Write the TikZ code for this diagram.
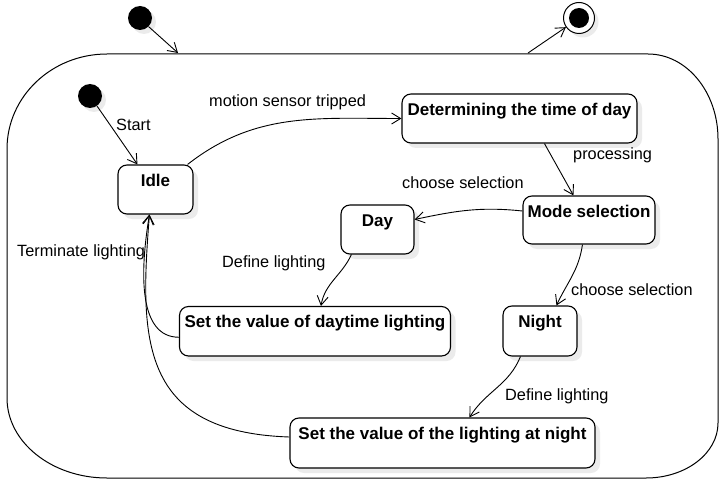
\documentclass[tikz,border=0pt]{standalone}
\usepackage{fontspec}
\setmainfont{Liberation Sans}
\usetikzlibrary{arrows.meta,calc,shadows}
\begin{document}
\begin{tikzpicture}[x=1pt,y=1pt,
  stbox/.style={draw, line width=1.1pt, rounded corners=9pt, fill=white, inner sep=0pt,
    drop shadow={shadow xshift=5pt, shadow yshift=-5pt, fill=black!8, opacity=1}},
  sttext/.style={font=\fontsize{17}{20}\selectfont\bfseries, anchor=base, inner sep=0pt},
  lbl/.style={font=\fontsize{16.3}{19}\selectfont, anchor=base west, inner sep=0pt},
  arr/.style={line width=0.9pt, -{Straight Barb[length=9pt,width=11pt,line width=0.9pt]}},
  initst/.style={circle, fill=black, minimum size=24pt, inner sep=0pt,
    drop shadow={shadow xshift=4pt, shadow yshift=-4pt, fill=black!8, opacity=1}}
]
\useasboundingbox (0,0) rectangle (719,480);
% outer composite state
\draw[line width=1pt] (107,426) -- (648,426)
  arc[start angle=90, end angle=0, x radius=70, y radius=85] -- (718,57)
  arc[start angle=0, end angle=-90, x radius=72, y radius=55] -- (107,2)
  arc[start angle=270, end angle=180, x radius=100, y radius=80] -- (7,331)
  arc[start angle=180, end angle=90, x radius=100, y radius=95] -- cycle;
\coordinate (bin) at (178,427);
\coordinate (bout) at (528,427);
% top initial and final
\node[initst] (topinit) at (140,462) {};
\node[circle, draw, line width=1pt, fill=white, minimum size=31pt, inner sep=0pt,
  drop shadow={shadow xshift=4pt, shadow yshift=-4pt, fill=black!8, opacity=1}] (final) at (579,462) {};
\node[circle, fill=black, minimum size=20pt, inner sep=0pt] (finaldot) at (final.center) {};
\draw[arr] (topinit.-45) -- (bin);
\draw[arr] (bout) -- (final.215);
% inner initial
\node[initst] (init) at (90,384) {};
% states
\node[stbox, minimum width=75pt, minimum height=49pt] (idle) at (155.5,290.5) {};
\node[sttext] (idlet) at ($(idle.north)+(0,-22)$) {Idle};
\node[stbox, minimum width=235pt, minimum height=49pt] (det) at (519.5,361.5) {};
\node[sttext] (dett) at ($(det.north)+(0,-22)$) {Determining the time of day};
\node[stbox, minimum width=132pt, minimum height=48pt] (mode) at (589,260) {};
\node[sttext] (modet) at ($(mode.north)+(0,-22)$) {Mode selection};
\node[stbox, minimum width=73pt, minimum height=49pt] (day) at (377.5,250.5) {};
\node[sttext] (dayt) at ($(day.north)+(0,-22)$) {Day};
\node[stbox, minimum width=271pt, minimum height=49.5pt] (setday) at (315,148.75) {};
\node[sttext] (setdayt) at ($(setday.north)+(0,-22)$) {Set the value of daytime lighting};
\node[stbox, minimum width=74pt, minimum height=50pt] (night) at (540,149) {};
\node[sttext] (nightt) at ($(night.north)+(0,-22)$) {Night};
\node[stbox, minimum width=305pt, minimum height=50pt] (setnight) at (442.5,37) {};
\node[sttext] (setnightt) at ($(setnight.north)+(0,-22)$) {Set the value of the lighting at night};
% transitions
\draw[arr] (init.-55) -- ($(idle.north west)+(20,0)$);
\draw[arr] ($(idle.north east)+(-6,0)$) to[out=38, in=180] (det.west);
\draw[arr] ($(det.south west)+(143,0)$) -- ($(mode.north west)+(51,0)$);
\draw[arr] ($(mode.west)+(0,9)$) to[out=174, in=12] ($(day.east)+(0,10)$);
\draw[arr] ($(day.south west)+(11,0)$) to[out=-115, in=80] ($(setday.north west)+(142,0)$);
\draw[arr] ($(mode.south west)+(60,0)$) to[out=-98, in=65] ($(night.north west)+(54,0)$);
\draw[arr] ($(night.south west)+(18,0)$) to[out=-112, in=58] ($(setnight.north west)+(180,0)$);
\draw[arr] ($(setday.west)+(0,-6)$) .. controls +(-40,0) and +(-10,-60) .. ($(idle.south west)+(32,0)$);
\draw[arr] ($(setnight.west)+(0,6)$) .. controls +(-150,5) and +(-10,-125) .. ($(idle.south west)+(32,0)$);
% labels
\node[lbl] (l1) at (116,349) {Start};
\node[lbl] (l2) at (209,373) {motion sensor tripped};
\node[lbl] (l3) at (573,320) {processing};
\node[lbl] (l4) at (402,292) {choose selection};
\node[lbl] (l5) at (222,213) {Define lighting};
\node[lbl] (l6) at (571,185) {choose selection};
\node[lbl] (l7) at (505,80) {Define lighting};
\node[lbl] (l8) at (17,224) {Terminate lighting};
\end{tikzpicture}
\end{document}
